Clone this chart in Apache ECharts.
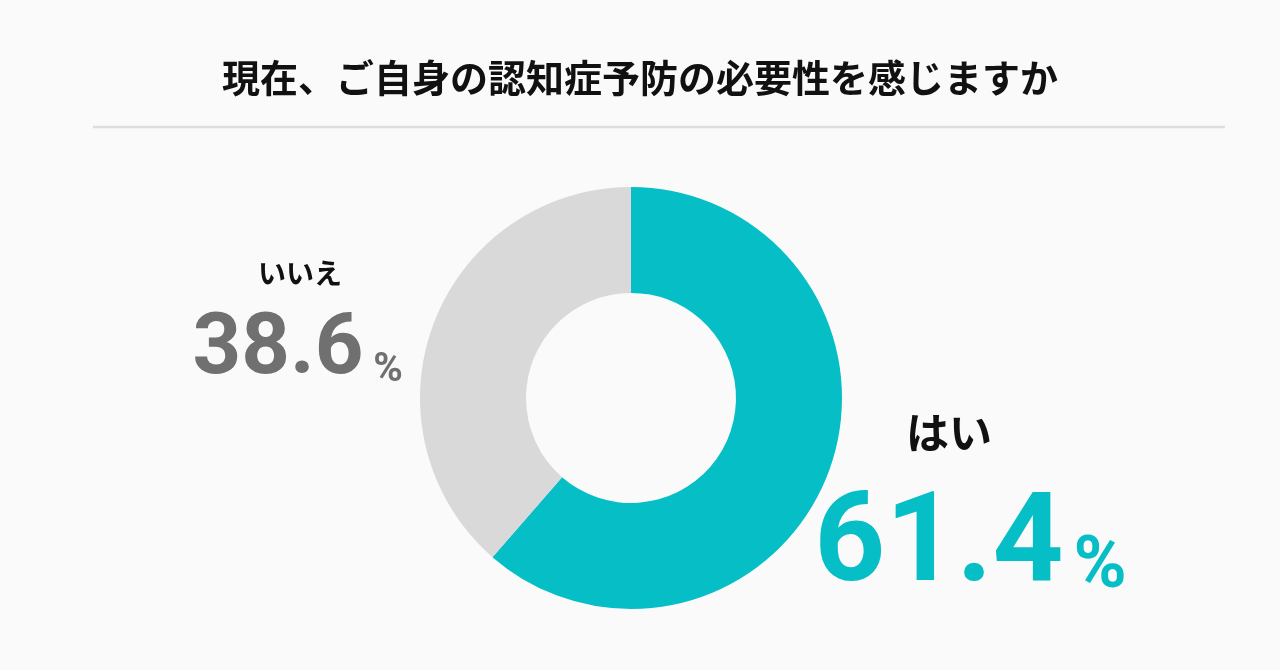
<!DOCTYPE html>
<html>
<head>
<meta charset="utf-8">
<script src="https://cdn.jsdelivr.net/npm/echarts@6/dist/echarts.min.js"></script>
<style>
  html, body { margin: 0; padding: 0; background: #fafafa; }
  #chart { width: 1280px; height: 670px; }
</style>
</head>
<body>
<div id="chart"></div>
<script>
// データ
var titleText = '現在、ご自身の認知症予防の必要性を感じますか';
var categories = ['はい', 'いいえ'];
var values = [61.4, 38.6];

var colors = ['#06bec6', '#d9d9d9'];
var numColors = ['#06bec6', '#707070'];

var chart = echarts.init(document.getElementById('chart'));

var pieData = categories.map(function (name, i) {
    return { name: name, value: values[i], itemStyle: { color: colors[i] } };
});

function txt(content, x, y, font, fill) {
    return {
        type: 'text',
        x: x, y: y,
        style: {
            text: content,
            font: font,
            fill: fill,
            align: 'center',
            verticalAlign: 'middle'
        }
    };
}

var option = {
    backgroundColor: '#fafafa',
    title: {
        text: titleText,
        left: 'center',
        top: 54,
        textStyle: {
            fontFamily: 'Noto Sans CJK JP',
            fontWeight: 'bold',
            fontSize: 38,
            color: '#111'
        }
    },
    graphic: [
        {
            type: 'line',
            shape: { x1: 93, y1: 127, x2: 1225, y2: 127 },
            style: { stroke: '#dddddd', lineWidth: 2.5 }
        },
        // いいえ
        txt(categories[1], 300, 273, 'bold 28px "Noto Sans CJK JP"', '#111'),
        txt(values[1].toFixed(1), 278, 352, 'bold 85px Roboto', numColors[1]),
        txt('%', 388, 371, 'bold 40px Roboto', numColors[1]),
        // はい
        txt(categories[0], 949, 433, 'bold 43px "Noto Sans CJK JP"', '#111'),
        txt(values[0].toFixed(1), 939, 549, 'bold 124px Roboto', numColors[0]),
        txt('%', 1100, 569, 'bold 72px Roboto', numColors[0])
    ],
    series: [
        {
            type: 'pie',
            center: [631, 398],
            radius: [105, 211],
            startAngle: 90,
            clockwise: true,
            silent: true,
            label: { show: false },
            labelLine: { show: false },
            data: pieData
        }
    ]
};
chart.setOption(option);
</script>
</body>
</html>
